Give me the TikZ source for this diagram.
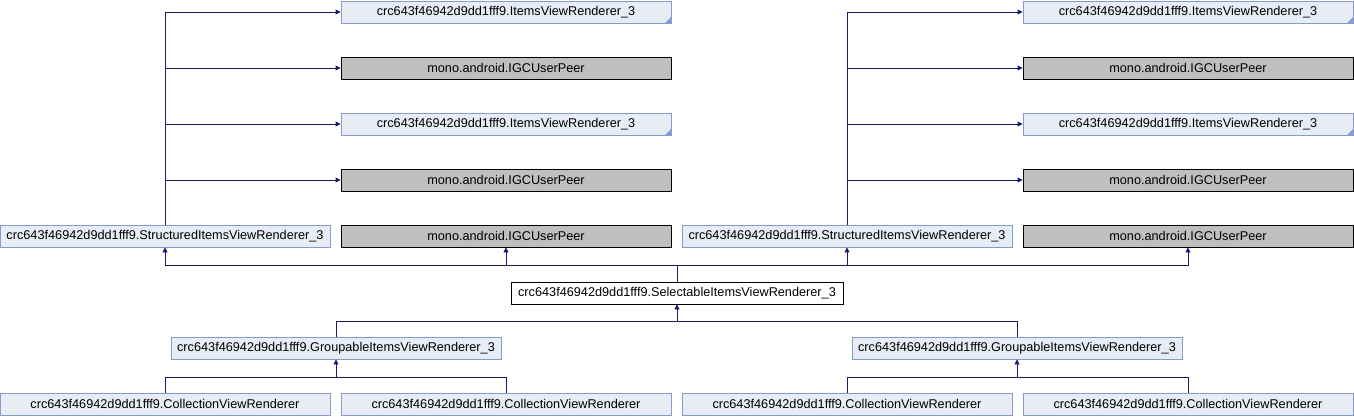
\documentclass[tikz,border=0pt]{standalone}
\usepackage{fontspec}
\setmainfont{Liberation Sans}
\usepackage{tikz}
\usetikzlibrary{arrows.meta,positioning}
\definecolor{BoxFill}{RGB}{232,236,244}
\definecolor{BoxLine}{RGB}{132,155,204}
\definecolor{PeerFill}{RGB}{191,191,191}
\definecolor{EdgeBlue}{RGB}{25,25,112}

\begin{document}
\begin{tikzpicture}[
  x=1pt, y=-1pt,
  cls/.style={
    draw=BoxLine,
    fill=BoxFill,
    minimum width=330pt,
    minimum height=22pt,
    inner sep=0pt,
    line width=0.9pt
  },
  trunc/.style={
    cls,
    path picture={
      \fill[BoxLine] (path picture bounding box.south east) -- ++(-6pt,0pt) -- ++(6pt,6pt) -- cycle;
    }
  },
  peer/.style={
    draw=black,
    fill=PeerFill,
    minimum width=330pt,
    minimum height=22pt,
    inner sep=0pt,
    line width=0.9pt
  },
  focus/.style={
    draw=black,
    fill=white,
    minimum width=332pt,
    minimum height=22pt,
    inner sep=0pt,
    line width=0.9pt
  },
  inherit/.style={-{Triangle[length=5pt,width=5pt]}, draw=EdgeBlue, line width=0.9pt},
  link/.style={draw=EdgeBlue, line width=0.9pt},
  font=\fontsize{12.7}{14}\selectfont
]
\useasboundingbox (0,0) rectangle (1354,416);

% left half
\node[trunc] (itemsL1) at (506,12) {crc643f46942d9dd1fff9.ItemsViewRenderer\_3};
\node[peer] (peerL1) at (506,68) {mono.android.IGCUserPeer};
\node[trunc] (itemsL2) at (506,124) {crc643f46942d9dd1fff9.ItemsViewRenderer\_3};
\node[peer] (peerL2) at (506,180) {mono.android.IGCUserPeer};
\node[cls] (structL) at (165,236) {crc643f46942d9dd1fff9.StructuredItemsViewRenderer\_3};
\node[peer] (peerL3) at (506,236) {mono.android.IGCUserPeer};

% right half
\node[trunc] (itemsR1) at (1188,12) {crc643f46942d9dd1fff9.ItemsViewRenderer\_3};
\node[peer] (peerR1) at (1188,68) {mono.android.IGCUserPeer};
\node[trunc] (itemsR2) at (1188,124) {crc643f46942d9dd1fff9.ItemsViewRenderer\_3};
\node[peer] (peerR2) at (1188,180) {mono.android.IGCUserPeer};
\node[cls] (structR) at (847,236) {crc643f46942d9dd1fff9.StructuredItemsViewRenderer\_3};
\node[peer] (peerR3) at (1188,236) {mono.android.IGCUserPeer};

\node[focus] (select) at (677,293) {crc643f46942d9dd1fff9.SelectableItemsViewRenderer\_3};

\node[cls] (groupL) at (336,348) {crc643f46942d9dd1fff9.GroupableItemsViewRenderer\_3};
\node[cls] (groupR) at (1017,348) {crc643f46942d9dd1fff9.GroupableItemsViewRenderer\_3};

\node[cls] (collA) at (165,404) {crc643f46942d9dd1fff9.CollectionViewRenderer};
\node[cls] (collB) at (506,404) {crc643f46942d9dd1fff9.CollectionViewRenderer};
\node[cls] (collC) at (847,404) {crc643f46942d9dd1fff9.CollectionViewRenderer};
\node[cls] (collD) at (1188,404) {crc643f46942d9dd1fff9.CollectionViewRenderer};

\coordinate (busTop) at (677,265);
\coordinate (busMid) at (677,321);
\coordinate (busL) at (336,377);
\coordinate (busR) at (1017,377);

% structured -> bases
\draw[inherit] (structL.north) |- (itemsL1.west);
\draw[inherit] (structL.north) |- (peerL1.west);
\draw[inherit] (structL.north) |- (itemsL2.west);
\draw[inherit] (structL.north) |- (peerL2.west);
\draw[inherit] (structR.north) |- (itemsR1.west);
\draw[inherit] (structR.north) |- (peerR1.west);
\draw[inherit] (structR.north) |- (itemsR2.west);
\draw[inherit] (structR.north) |- (peerR2.west);

% selectable -> bases
\draw[link] (select.north) -- (busTop);
\draw[inherit] (busTop) -| (structL.south);
\draw[inherit] (busTop) -| (peerL3.south);
\draw[inherit] (busTop) -| (structR.south);
\draw[inherit] (busTop) -| (peerR3.south);

% groupable -> selectable
\draw[link] (groupL.north) |- (busMid);
\draw[link] (groupR.north) |- (busMid);
\draw[inherit] (busMid) -- (select.south);

% collection -> groupable
\draw[link] (collA.north) |- (busL);
\draw[link] (collB.north) |- (busL);
\draw[inherit] (busL) -- (groupL.south);
\draw[link] (collC.north) |- (busR);
\draw[link] (collD.north) |- (busR);
\draw[inherit] (busR) -- (groupR.south);
\end{tikzpicture}
\end{document}
